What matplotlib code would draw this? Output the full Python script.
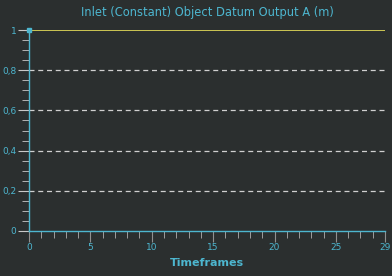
import numpy as np
import matplotlib
matplotlib.use("Agg")
import matplotlib.pyplot as plt
from matplotlib.ticker import MultipleLocator, FuncFormatter

# data
frames = list(range(30))
output_a = [1.0] * 30
y_ticks = [0, 0.2, 0.4, 0.6, 0.8, 1]

bg = "#2b2f2f"
cyan = "#4db6cf"
tickc = "#c8c8c8"

fig = plt.figure(figsize=(3.92, 2.76), dpi=100, facecolor=bg)
ax = fig.add_axes([29/392, 45/276, 356/392, 201/276])
ax.set_facecolor(bg)

ax.plot(frames, output_a, color="#e8e05a", linewidth=1.2, zorder=3)
ax.plot(frames[:1], output_a[:1], "s", color=cyan, markersize=3, zorder=4, clip_on=False)

ax.set_xlim(0, 29)
ax.set_ylim(0, 1)
ax.set_xticks([0, 5, 10, 15, 20, 25, 29])
ax.xaxis.set_minor_locator(MultipleLocator(1))
ax.set_yticks(y_ticks)
ax.yaxis.set_minor_locator(MultipleLocator(0.05))
ax.yaxis.set_major_formatter(FuncFormatter(lambda v, p: ("%g" % v).replace(".", ",")))

for g in y_ticks[1:-1]:
    ax.axhline(g, color="#d0d0d0", linestyle=(0, (4, 3)), linewidth=0.9, zorder=1)

for s in ["top", "right"]:
    ax.spines[s].set_visible(False)
for s in ["left", "bottom"]:
    ax.spines[s].set_color(cyan)
    ax.spines[s].set_linewidth(1)

ax.tick_params(axis="y", which="major", length=8, color=tickc, labelcolor=cyan, labelsize=6.5, pad=1)
ax.tick_params(axis="y", which="minor", length=5, color=tickc)
ax.tick_params(axis="x", which="major", length=8, color="#909090", labelcolor=cyan, labelsize=6.5, pad=1)
ax.tick_params(axis="x", which="minor", length=5, color="#b0b0b0")

ax.set_title("Inlet (Constant) Object Datum Output A (m)", color=cyan, fontsize=8.3, fontweight="medium", pad=10)
ax.set_xlabel("Timeframes", color=cyan, fontsize=8, fontweight="bold", labelpad=4)

fig.savefig("out.png", dpi=100, facecolor=bg)
